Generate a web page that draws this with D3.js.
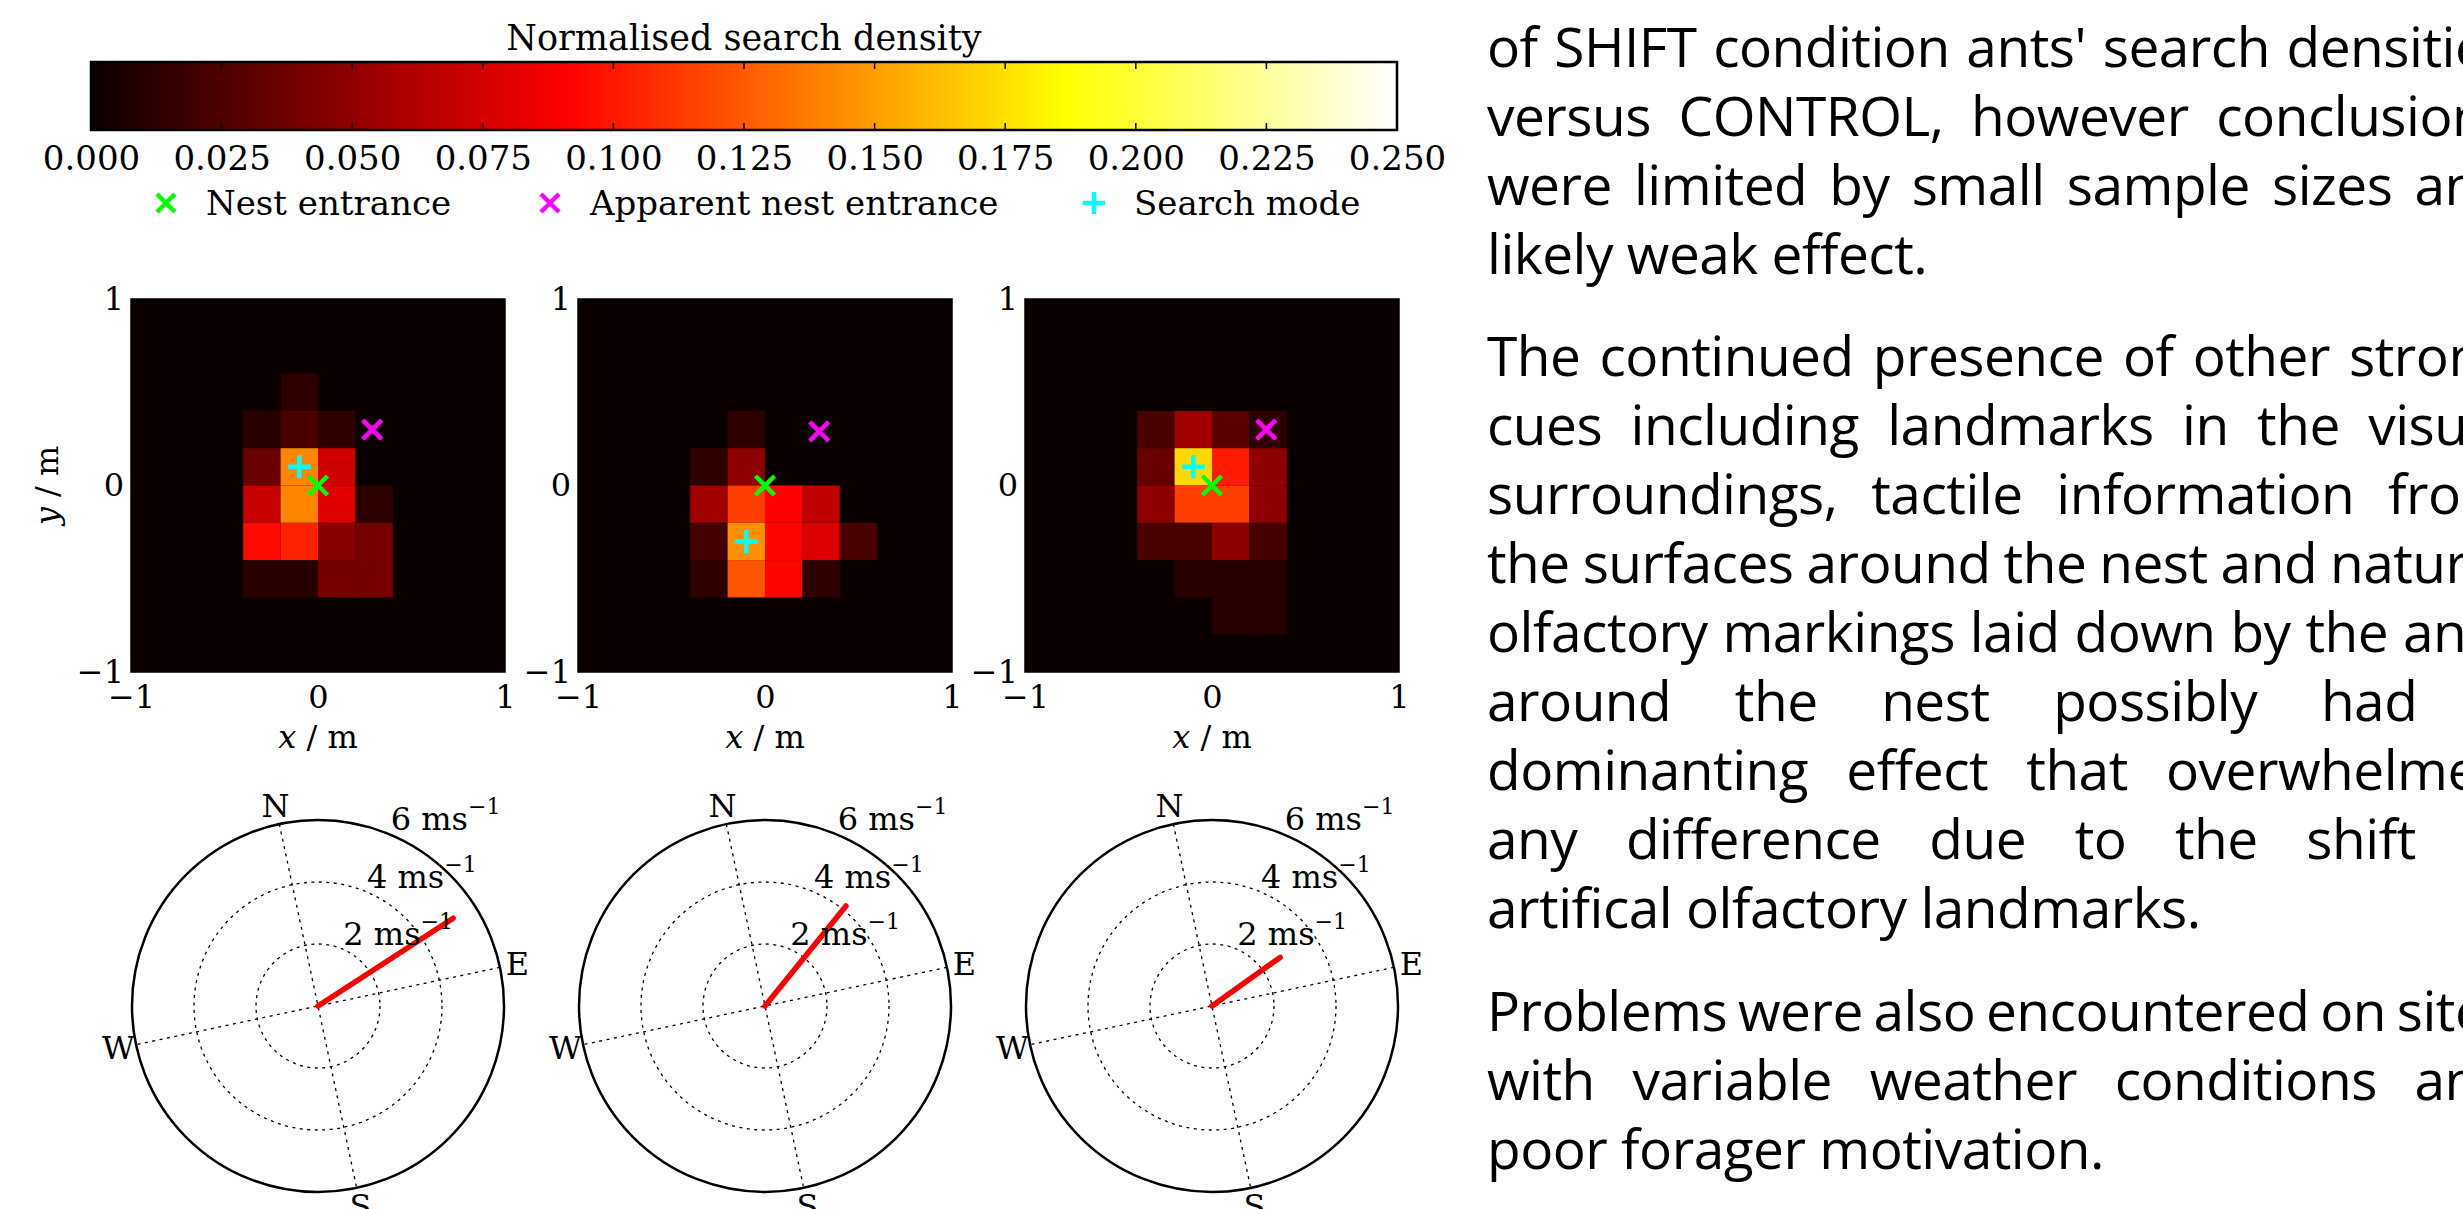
<!DOCTYPE html>
<html>
<head>
<meta charset="utf-8">
<script src="https://cdn.jsdelivr.net/npm/d3@7"></script>
<style>
  html, body { margin: 0; padding: 0; background: #fff; overflow: hidden; }
  #chart { position: absolute; left: 0; top: 0; }
  #notes {
    position: absolute; left: 1487px; top: 10.9px;
    font-family: "Open Sans", sans-serif; font-size: 55px; line-height: 69px;
    letter-spacing: -0.5px; color: #000;
  }
  #notes .para { margin-bottom: 33.5px; }
  #notes .ln { white-space: nowrap; }
</style>
</head>
<body>
<div id="chart"></div>
<div id="notes"></div>
<script>
// ---- data ----
const binEdges = [-1, -0.8, -0.6, -0.4, -0.2, 0, 0.2, 0.4, 0.6, 0.8, 1];

// search density per 0.2 m cell, rows from top (y = 1) to bottom (y = -1)
const densityRun1 = [
  [0, 0, 0, 0,     0,     0,     0,     0, 0, 0],
  [0, 0, 0, 0,     0,     0,     0,     0, 0, 0],
  [0, 0, 0, 0,     0.013, 0,     0,     0, 0, 0],
  [0, 0, 0, 0.011, 0.024, 0.013, 0,     0, 0, 0],
  [0, 0, 0, 0.036, 0.141, 0.073, 0,     0, 0, 0],
  [0, 0, 0, 0.071, 0.141, 0.080, 0.013, 0, 0, 0],
  [0, 0, 0, 0.095, 0.104, 0.047, 0.040, 0, 0, 0],
  [0, 0, 0, 0.011, 0.011, 0.040, 0.040, 0, 0, 0],
  [0, 0, 0, 0,     0,     0,     0,     0, 0, 0],
  [0, 0, 0, 0,     0,     0,     0,     0, 0, 0]
];
const densityRun2 = [
  [0, 0, 0, 0,     0,     0,     0,     0,     0, 0],
  [0, 0, 0, 0,     0,     0,     0,     0,     0, 0],
  [0, 0, 0, 0,     0,     0,     0,     0,     0, 0],
  [0, 0, 0, 0,     0.013, 0,     0,     0,     0, 0],
  [0, 0, 0, 0.013, 0.050, 0,     0,     0,     0, 0],
  [0, 0, 0, 0.056, 0.114, 0.092, 0.067, 0,     0, 0],
  [0, 0, 0, 0.022, 0.145, 0.093, 0.078, 0.024, 0, 0],
  [0, 0, 0, 0.013, 0.123, 0.093, 0.013, 0,     0, 0],
  [0, 0, 0, 0,     0,     0,     0,     0,     0, 0],
  [0, 0, 0, 0,     0,     0,     0,     0,     0, 0]
];
const densityRun3 = [
  [0, 0, 0, 0,     0,     0,     0,     0, 0, 0],
  [0, 0, 0, 0,     0,     0,     0,     0, 0, 0],
  [0, 0, 0, 0,     0,     0,     0,     0, 0, 0],
  [0, 0, 0, 0.024, 0.056, 0.029, 0.013, 0, 0, 0],
  [0, 0, 0, 0.035, 0.172, 0.101, 0.050, 0, 0, 0],
  [0, 0, 0, 0.050, 0.114, 0.114, 0.050, 0, 0, 0],
  [0, 0, 0, 0.024, 0.024, 0.050, 0.022, 0, 0, 0],
  [0, 0, 0, 0,     0.011, 0.011, 0.011, 0, 0, 0],
  [0, 0, 0, 0,     0,     0.011, 0.011, 0, 0, 0],
  [0, 0, 0, 0,     0,     0,     0,     0, 0, 0]
];
const densities = [densityRun1, densityRun2, densityRun3];

const nestEntrance = [[0, 0], [0, 0], [0, 0]];
const apparentNest = [[0.29, 0.30], [0.29, 0.29], [0.29, 0.30]];
const searchMode = [[-0.1, 0.1], [-0.1, -0.3], [-0.1, 0.1]];

const windSpeed = [5.2, 4.15, 2.7];      // m/s
const windBearing = [69, 51, 66.5];      // degrees from north
const speedTicks = [2, 4, 6];
const compassLabels = ["N", "E", "S", "W"];
const compassBearings = [0, 90, 180, 270];
const northRotation = -12;               // compass drawn rotated

const colorbarTicks = [0, 0.025, 0.05, 0.075, 0.1, 0.125, 0.15, 0.175, 0.2, 0.225, 0.25];
const axisTicks = [-1, 0, 1];

const legendItems = [
  { label: "Nest entrance", color: "#00ff00", shape: "x" },
  { label: "Apparent nest entrance", color: "#ff00ff", shape: "x" },
  { label: "Search mode", color: "#00ffff", shape: "+" }
];

const notes = [
  ["of SHIFT condition ants' search densities",
   "versus CONTROL, however conclusions",
   "were limited by small sample sizes and",
   "likely weak effect."],
  ["The continued presence of other strong",
   "cues including landmarks in the visual",
   "surroundings, tactile information from",
   "the surfaces around the nest and natural",
   "olfactory markings laid down by the ants",
   "around the nest possibly had a",
   "dominanting effect that overwhelmed",
   "any difference due to the shift in",
   "artifical olfactory landmarks."],
  ["Problems were also encountered on sites",
   "with variable weather conditions and",
   "poor forager motivation."]
];

// ---- layout ----
const W = 2463, H = 1209;
const serif = "DejaVu Serif";
const panelLeft = [131, 578, 1025];
const panelTop = 299, panelW = 374, panelH = 373;
const polarCy = 1006, polarR = 186;
const notesWidth = 1024;

// matplotlib "hot" colormap over 0..0.25
const heat = d3.scaleLinear()
  .domain([0, 0.25 * 0.365079, 0.25 * 0.746032, 0.25])
  .range(["rgb(11,0,0)", "rgb(255,0,0)", "rgb(255,255,0)", "rgb(255,255,255)"])
  .clamp(true);

const svg = d3.select("#chart").append("svg")
  .attr("width", W).attr("height", H)
  .style("font-family", serif);

// ---- colorbar ----
const cbX = d3.scaleLinear().domain([0, 0.25]).range([91, 1397]);
const cbTop = 62, cbH = 68;

const grad = svg.append("defs").append("linearGradient")
  .attr("id", "hotgrad").attr("x1", 0).attr("x2", 1).attr("y1", 0).attr("y2", 0);
heat.domain().forEach(v => {
  grad.append("stop").attr("offset", v / 0.25).attr("stop-color", heat(v));
});

svg.append("text")
  .attr("x", (cbX.range()[0] + cbX.range()[1]) / 2).attr("y", 50)
  .attr("text-anchor", "middle").attr("font-size", 35)
  .text("Normalised search density");

svg.append("rect")
  .attr("x", cbX(0)).attr("y", cbTop)
  .attr("width", cbX(0.25) - cbX(0)).attr("height", cbH)
  .attr("fill", "url(#hotgrad)")
  .attr("stroke", "#000").attr("stroke-width", 2.5);

const cbTickG = svg.append("g").attr("stroke", "#000").attr("stroke-width", 1.5);
colorbarTicks.slice(1, -1).forEach(d => {
  cbTickG.append("line").attr("x1", cbX(d)).attr("x2", cbX(d))
    .attr("y1", cbTop).attr("y2", cbTop + 7);
  cbTickG.append("line").attr("x1", cbX(d)).attr("x2", cbX(d))
    .attr("y1", cbTop + cbH - 7).attr("y2", cbTop + cbH);
});

svg.append("g")
  .attr("transform", `translate(0,${cbTop + cbH})`)
  .call(d3.axisBottom(cbX).tickValues(colorbarTicks).tickFormat(d3.format(".3f"))
    .tickSize(0).tickPadding(16))
  .call(g => g.select(".domain").remove())
  .call(g => g.selectAll("text").attr("font-size", 34).attr("font-family", serif).attr("fill", "#000"));

// ---- markers ----
function markerPath(shape, s) {
  return shape === "x"
    ? `M${-s},${-s}L${s},${s}M${-s},${s}L${s},${-s}`
    : `M${-s},0L${s},0M0,${-s}L0,${s}`;
}

// legend
const legendPos = [166, 550, 1094];
legendItems.forEach((it, i) => {
  svg.append("path")
    .attr("transform", `translate(${legendPos[i]},203)`)
    .attr("d", markerPath(it.shape, it.shape === "x" ? 9 : 11))
    .attr("stroke", it.color).attr("stroke-width", 4.5).attr("fill", "none");
  svg.append("text")
    .attr("x", legendPos[i] + 40).attr("y", 215)
    .attr("font-size", 34)
    .text(it.label);
});

// ---- heatmap panels ----
const minus = d => (d < 0 ? "\u2212" + Math.abs(d) : String(d));

densities.forEach((grid, p) => {
  const x = d3.scaleLinear().domain([-1, 1]).range([panelLeft[p], panelLeft[p] + panelW]);
  const y = d3.scaleLinear().domain([-1, 1]).range([panelTop + panelH, panelTop]);
  const g = svg.append("g");

  g.append("rect")
    .attr("x", x(-1)).attr("y", y(1))
    .attr("width", x(1) - x(-1)).attr("height", y(-1) - y(1))
    .attr("fill", heat(0));

  const cells = [];
  grid.forEach((row, r) => row.forEach((v, c) => {
    if (v > 0) cells.push({ c, r, v });
  }));

  g.selectAll("rect.cell").data(cells).join("rect")
    .attr("class", "cell")
    .attr("x", d => x(binEdges[d.c]))
    .attr("y", d => y(binEdges[10 - d.r]))
    .attr("width", d => x(binEdges[d.c + 1]) - x(binEdges[d.c]))
    .attr("height", d => y(binEdges[9 - d.r]) - y(binEdges[10 - d.r]))
    .attr("fill", d => heat(d.v));

  g.append("rect")
    .attr("x", x(-1)).attr("y", y(1))
    .attr("width", x(1) - x(-1)).attr("height", y(-1) - y(1))
    .attr("fill", "none").attr("stroke", "#000").attr("stroke-width", 1.5);

  const marks = [
    { pt: nestEntrance[p], color: "#00ff00", shape: "x" },
    { pt: apparentNest[p], color: "#ff00ff", shape: "x" },
    { pt: searchMode[p], color: "#00ffff", shape: "+" }
  ];
  g.selectAll("path.mk").data(marks).join("path")
    .attr("class", "mk")
    .attr("transform", d => `translate(${x(d.pt[0])},${y(d.pt[1])})`)
    .attr("d", d => markerPath(d.shape, d.shape === "x" ? 9.5 : 11.5))
    .attr("stroke", d => d.color).attr("stroke-width", 4.5).attr("fill", "none");

  g.append("g")
    .attr("transform", `translate(${x(-1)},0)`)
    .call(d3.axisLeft(y).tickValues(axisTicks).tickFormat(minus).tickSize(0).tickPadding(7))
    .call(a => a.select(".domain").remove())
    .call(a => a.selectAll("text").attr("font-size", 32).attr("font-family", serif).attr("fill", "#000"));

  g.append("g")
    .attr("transform", `translate(0,${y(-1)})`)
    .call(d3.axisBottom(x).tickValues(axisTicks).tickFormat(minus).tickSize(0).tickPadding(13))
    .call(a => a.select(".domain").remove())
    .call(a => a.selectAll("text").attr("font-size", 32).attr("font-family", serif).attr("fill", "#000"));

  const xl = g.append("text")
    .attr("x", x(0)).attr("y", 748)
    .attr("text-anchor", "middle").attr("font-size", 32);
  xl.append("tspan").attr("font-style", "italic").text("x");
  xl.append("tspan").text(" / m");

  if (p === 0) {
    const yl = g.append("text")
      .attr("transform", `translate(58,${y(0)}) rotate(-90)`)
      .attr("text-anchor", "middle").attr("font-size", 32);
    yl.append("tspan").attr("font-style", "italic").text("y");
    yl.append("tspan").text(" / m");
  }
});

// ---- wind polar panels ----
const rad = deg => (deg + northRotation) * Math.PI / 180;
const rScale = d3.scaleLinear().domain([0, 6]).range([0, polarR]);
const radial = d3.lineRadial().angle(d => rad(d[0])).radius(d => rScale(d[1]));

windSpeed.forEach((speed, p) => {
  const cx = panelLeft[p] + panelW / 2;
  const g = svg.append("g").attr("transform", `translate(${cx},${polarCy})`);

  g.selectAll("circle.ring").data(speedTicks.slice(0, -1)).join("circle")
    .attr("class", "ring")
    .attr("r", d => rScale(d))
    .attr("fill", "none").attr("stroke", "#000")
    .attr("stroke-width", 1.3).attr("stroke-dasharray", "3,4.5");

  [0, 90].forEach(b => {
    g.append("path")
      .attr("d", radial([[b, 6], [b + 180, 6]]))
      .attr("fill", "none").attr("stroke", "#000")
      .attr("stroke-width", 1.3).attr("stroke-dasharray", "3,4.5");
  });

  g.append("circle").attr("r", rScale(6))
    .attr("fill", "none").attr("stroke", "#000").attr("stroke-width", 2.5);

  g.append("path")
    .attr("d", radial([[windBearing[p], 0], [windBearing[p], speed]]))
    .attr("stroke", "#ff0000").attr("stroke-width", 5.5)
    .attr("stroke-linecap", "round").attr("fill", "none");

  compassLabels.forEach((lab, i) => {
    const [px, py] = d3.pointRadial(rad(compassBearings[i]), polarR + 18);
    g.append("text")
      .attr("x", px).attr("y", py)
      .attr("text-anchor", "middle").attr("dominant-baseline", "central")
      .attr("font-size", 32).text(lab);
  });

  speedTicks.forEach(v => {
    const [px, py] = d3.pointRadial(22.5 * Math.PI / 180, rScale(v) + 4);
    const t = g.append("text").attr("x", px).attr("y", py).attr("font-size", 32);
    t.append("tspan").text(`${v} ms`);
    t.append("tspan").attr("font-size", 22).attr("dy", -16).text("\u22121");
  });
});

// ---- side text (justified line by line) ----
const notesDiv = d3.select("#notes");
notes.forEach(par => {
  const pd = notesDiv.append("div").attr("class", "para");
  par.forEach((line, i) => {
    const ln = pd.append("div").attr("class", "ln");
    const span = ln.append("span").text(line);
    if (i < par.length - 1) {
      const natural = span.node().getBoundingClientRect().width;
      const gaps = line.split(" ").length - 1;
      if (gaps > 0) ln.style("word-spacing", `${(notesWidth - natural) / gaps}px`);
    }
  });
});
</script>
</body>
</html>
